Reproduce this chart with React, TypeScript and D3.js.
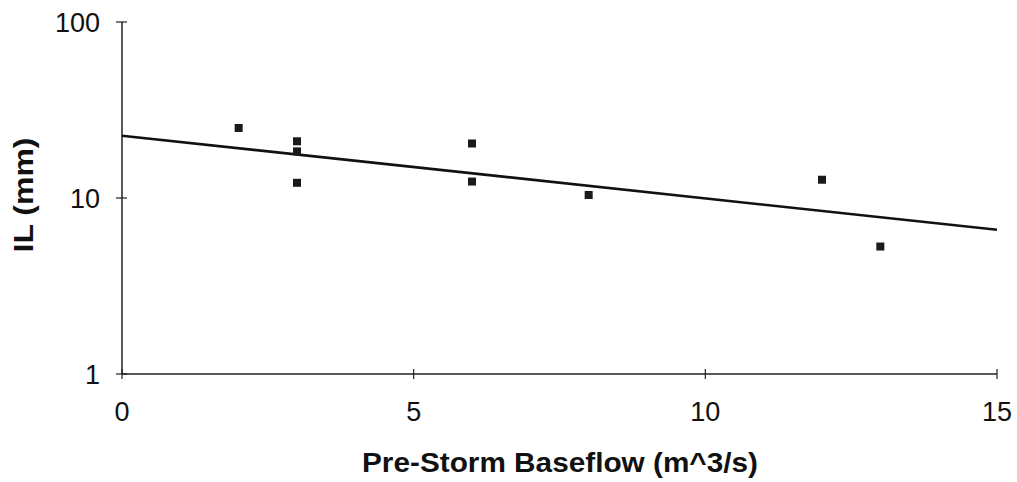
import React from "react";
import * as d3 from "d3";

const baseflow = [2, 3, 3, 3, 6, 6, 8, 12, 13];
const ilValues = [25, 21, 18.4, 12.2, 20.4, 12.4, 10.4, 12.7, 5.3];
const trendX = [0, 15];
const trendY = [22.6, 6.6];
const xTicks = [0, 5, 10, 15];
const yTicks = [1, 10, 100];

const W = 1017;
const H = 482;
const left = 122;
const right = 997;
const top = 22;
const bottom = 374;

export default function App() {
  const x = d3.scaleLinear().domain([0, 15]).range([left, right]);
  const y = d3.scaleLog().domain([1, 100]).range([bottom, top]);
  const line = d3
    .line<number>()
    .x((_, i) => x(trendX[i]))
    .y((d) => y(d));
  const font = "'Liberation Sans', Arial, sans-serif";
  return (
    <svg
      width={W}
      height={H}
      style={{ position: "absolute", left: 0, top: 0, background: "#fff" }}
    >
      <rect x={0} y={0} width={W} height={H} fill="#fff" />
      {/* axes */}
      <line x1={left} x2={left} y1={top} y2={bottom} stroke="#222" strokeWidth={1.5} />
      <line x1={left} x2={right} y1={bottom} y2={bottom} stroke="#222" strokeWidth={1.5} />
      {yTicks.map((t) => (
        <g key={"y" + t}>
          <line x1={left - 6} x2={left + 5} y1={y(t)} y2={y(t)} stroke="#222" strokeWidth={1.2} />
          <text
            x={left - 22}
            y={y(t) + 10}
            textAnchor="end"
            fontFamily={font}
            fontSize={27}
            fill="#111"
          >
            {t}
          </text>
        </g>
      ))}
      {xTicks.map((t) => (
        <g key={"x" + t}>
          <line x1={x(t)} x2={x(t)} y1={bottom - 5} y2={bottom + 5} stroke="#222" strokeWidth={1.2} />
          <text
            x={x(t)}
            y={421}
            textAnchor="middle"
            fontFamily={font}
            fontSize={27}
            fill="#111"
          >
            {t}
          </text>
        </g>
      ))}
      {/* trend line */}
      <path d={line(trendY) || ""} fill="none" stroke="#111" strokeWidth={2.6} />
      {/* points */}
      {baseflow.map((b, i) => (
        <rect
          key={i}
          x={x(b) - 4}
          y={y(ilValues[i]) - 4}
          width={8}
          height={8}
          fill="#1a1a1a"
        />
      ))}
      {/* titles */}
      <text
        x={560}
        y={472}
        textAnchor="middle"
        fontFamily={font}
        fontWeight="bold"
        fontSize={27}
        textLength={396}
        lengthAdjust="spacingAndGlyphs"
        fill="#111"
      >
        Pre-Storm Baseflow (m^3/s)
      </text>
      <text
        transform={`translate(33, 195) rotate(-90)`}
        textAnchor="middle"
        fontFamily={font}
        fontWeight="bold"
        fontSize={28}
        textLength={115}
        lengthAdjust="spacingAndGlyphs"
        fill="#111"
      >
        IL (mm)
      </text>
    </svg>
  );
}
